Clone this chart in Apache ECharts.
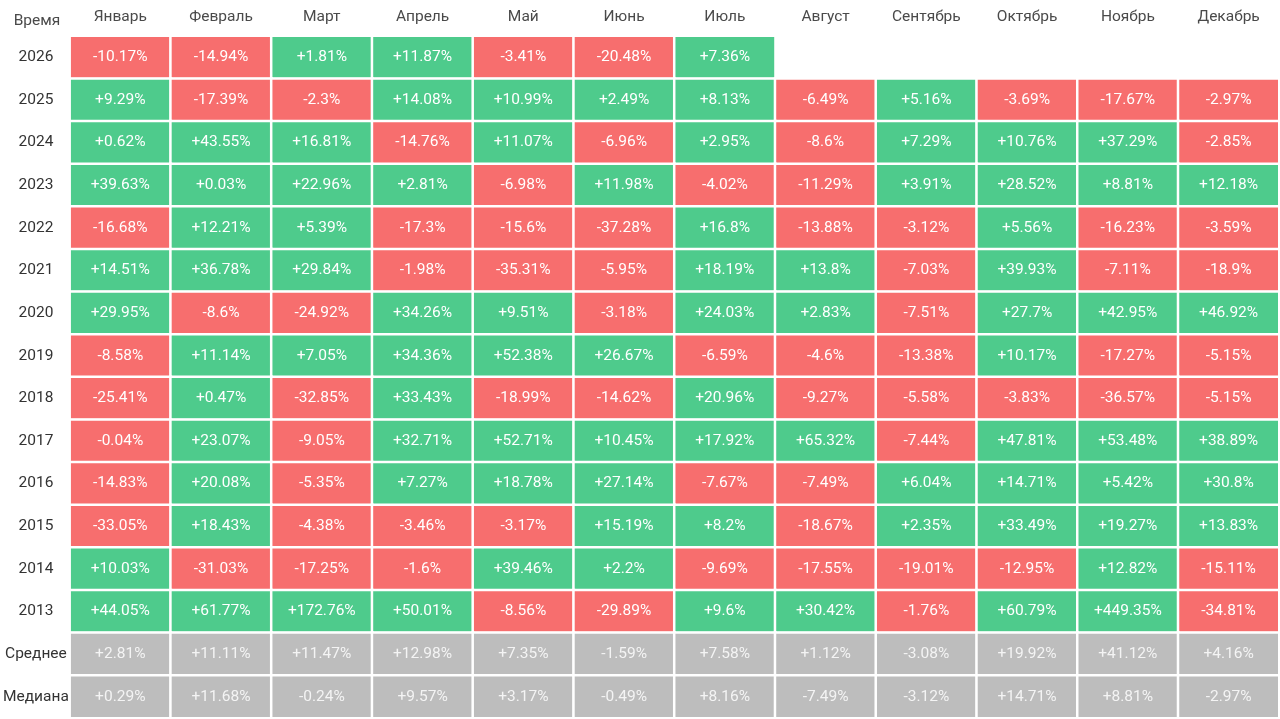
<!DOCTYPE html>
<html>
<head>
<meta charset="utf-8">
<title>Доходность по месяцам</title>
<script src="https://cdn.jsdelivr.net/npm/echarts@6/dist/echarts.min.js"></script>
<style>
  html, body { margin: 0; padding: 0; background: #fff; }
  #chart { width: 1280px; height: 719px; }
</style>
</head>
<body>
<div id="chart"></div>
<script>
// месяцы и строки таблицы
var months = ["Январь", "Февраль", "Март", "Апрель", "Май", "Июнь", "Июль", "Август", "Сентябрь", "Октябрь", "Ноябрь", "Декабрь"];
var rows = ["2026", "2025", "2024", "2023", "2022", "2021", "2020", "2019", "2018", "2017", "2016", "2015", "2014", "2013", "Среднее", "Медиана"];

// доходность, %
var y2026 = [-10.17, -14.94, 1.81, 11.87, -3.41, -20.48, 7.36];
var y2025 = [9.29, -17.39, -2.3, 14.08, 10.99, 2.49, 8.13, -6.49, 5.16, -3.69, -17.67, -2.97];
var y2024 = [0.62, 43.55, 16.81, -14.76, 11.07, -6.96, 2.95, -8.6, 7.29, 10.76, 37.29, -2.85];
var y2023 = [39.63, 0.03, 22.96, 2.81, -6.98, 11.98, -4.02, -11.29, 3.91, 28.52, 8.81, 12.18];
var y2022 = [-16.68, 12.21, 5.39, -17.3, -15.6, -37.28, 16.8, -13.88, -3.12, 5.56, -16.23, -3.59];
var y2021 = [14.51, 36.78, 29.84, -1.98, -35.31, -5.95, 18.19, 13.8, -7.03, 39.93, -7.11, -18.9];
var y2020 = [29.95, -8.6, -24.92, 34.26, 9.51, -3.18, 24.03, 2.83, -7.51, 27.7, 42.95, 46.92];
var y2019 = [-8.58, 11.14, 7.05, 34.36, 52.38, 26.67, -6.59, -4.6, -13.38, 10.17, -17.27, -5.15];
var y2018 = [-25.41, 0.47, -32.85, 33.43, -18.99, -14.62, 20.96, -9.27, -5.58, -3.83, -36.57, -5.15];
var y2017 = [-0.04, 23.07, -9.05, 32.71, 52.71, 10.45, 17.92, 65.32, -7.44, 47.81, 53.48, 38.89];
var y2016 = [-14.83, 20.08, -5.35, 7.27, 18.78, 27.14, -7.67, -7.49, 6.04, 14.71, 5.42, 30.8];
var y2015 = [-33.05, 18.43, -4.38, -3.46, -3.17, 15.19, 8.2, -18.67, 2.35, 33.49, 19.27, 13.83];
var y2014 = [10.03, -31.03, -17.25, -1.6, 39.46, 2.2, -9.69, -17.55, -19.01, -12.95, 12.82, -15.11];
var y2013 = [44.05, 61.77, 172.76, 50.01, -8.56, -29.89, 9.6, 30.42, -1.76, 60.79, 449.35, -34.81];
var average = [2.81, 11.11, 11.47, 12.98, 7.35, -1.59, 7.58, 1.12, -3.08, 19.92, 41.12, 4.16];
var median = [0.29, 11.68, -0.24, 9.57, 3.17, -0.49, 8.16, -7.49, -3.12, 14.71, 8.81, -2.97];

var table = [y2026, y2025, y2024, y2023, y2022, y2021, y2020, y2019, y2018, y2017, y2016, y2015, y2014, y2013, average, median];

(function() {
  var myChart = echarts.init(document.getElementById("chart"));

  var red = "#f76e6e";
  var green = "#4ecb8c";
  var gray = "#bdbdbd";

  // собираем ячейки [месяц, строка, значение]
  var cells = [];
  table.forEach(function(list, r) {
    var isStat = r >= 14;
    list.forEach(function(v, c) {
      cells.push({
        value: [c, r, v],
        itemStyle: { color: isStat ? gray : (v >= 0 ? green : red) },
        label: { color: isStat ? "#f4f4f4" : "#fff" }
      });
    });
  });

  var option = {
    animation: false,
    textStyle: { fontFamily: "Roboto, 'Noto Sans', sans-serif" },
    title: {
      text: "Время",
      left: 32,
      top: 8,
      textAlign: "center",
      textStyle: { fontSize: 15.5, fontWeight: "normal", color: "#4a4a4a" }
    },
    grid: {
      left: 67,
      right: 1,
      top: 36,
      bottom: 1
    },
    xAxis: {
      type: "category",
      position: "top",
      data: months,
      axisLine: { show: false },
      axisTick: { show: false },
      splitLine: { show: false },
      axisLabel: {
        color: "#4a4a4a",
        fontSize: 15.5,
        margin: 11
      }
    },
    yAxis: {
      type: "category",
      inverse: true,
      data: rows,
      axisLine: { show: false },
      axisTick: { show: false },
      splitLine: { show: false },
      axisLabel: {
        color: "#333",
        fontSize: 15.5,
        align: "center",
        margin: 34
      }
    },
    series: [
      {
        type: "heatmap",
        data: cells,
        itemStyle: {
          borderColor: "#fff",
          borderWidth: 2.5
        },
        label: {
          show: true,
          fontSize: 15.5,
          formatter: function(p) {
            var v = p.value[2];
            return (v > 0 ? "+" : "") + v + "%";
          }
        },
        emphasis: { disabled: true }
      }
    ]
  };

  myChart.setOption(option);
  window.addEventListener("resize", function() {
    myChart.resize();
  });
})();
</script>
</body>
</html>
